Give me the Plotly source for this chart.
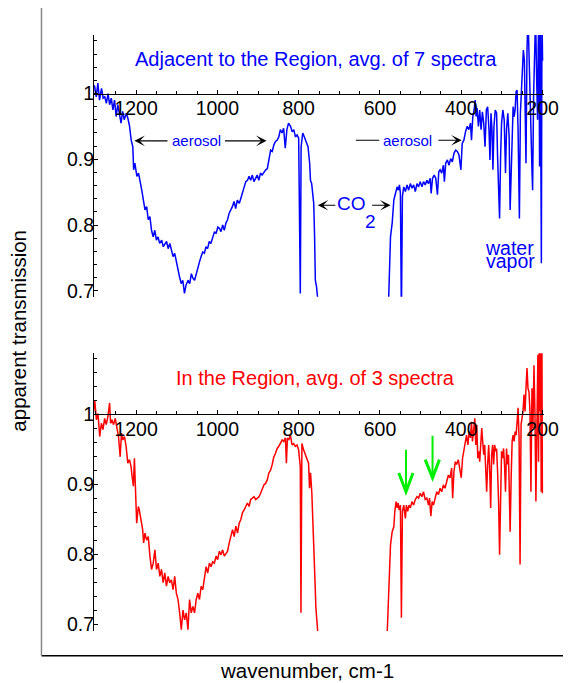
import plotly.graph_objects as go

# ---------------- data ----------------
# Top panel: adjacent to the region (blue)
top_left_wn = [1306, 1305, 1302, 1298, 1294, 1290, 1285, 1281, 1277, 1273,
               1269, 1265, 1261, 1257, 1253, 1249, 1245, 1241, 1237, 1233,
               1229, 1224, 1220, 1216, 1212, 1208, 1206, 1203, 1198, 1194,
               1190, 1186, 1182, 1178, 1174, 1170, 1166, 1162, 1158, 1154,
               1150, 1146, 1142, 1137, 1133, 1129, 1125, 1121, 1117, 1113,
               1109, 1105, 1101, 1097, 1093, 1089, 1085, 1081, 1077, 1072,
               1068, 1064, 1060, 1056, 1052, 1048, 1044, 1040, 1036, 1032,
               1028, 1024, 1020, 1016, 1011, 1007, 1003, 999, 995, 991,
               987, 983, 979, 975, 971, 967, 963, 959, 955, 951,
               946, 942, 938, 934, 930, 926, 922, 918, 914, 910,
               906, 902, 898, 894, 890, 885, 881, 877, 873, 869,
               865, 861, 857, 853, 849, 845, 841, 837, 833, 829,
               825, 820, 816, 812, 808, 804, 800, 796, 794, 790,
               786, 781, 777, 773, 771, 768, 765, 763, 761, 759,
               756, 753]
top_left_t = [0.970, 1.013, 1.011, 0.995, 1.016, 0.990, 1.008, 0.993, 0.995, 0.985,
              1.000, 0.983, 0.993, 0.975, 0.990, 0.965, 0.983, 0.970, 0.955, 0.973,
              0.960, 0.970, 0.962, 0.950, 0.929, 0.919, 0.884, 0.894, 0.874, 0.879,
              0.868, 0.853, 0.838, 0.823, 0.828, 0.808, 0.813, 0.792, 0.782, 0.792,
              0.777, 0.782, 0.772, 0.777, 0.767, 0.772, 0.775, 0.764, 0.772, 0.762,
              0.752, 0.757, 0.744, 0.729, 0.721, 0.711, 0.716, 0.696, 0.709, 0.716,
              0.711, 0.726, 0.719, 0.716, 0.726, 0.737, 0.744, 0.752, 0.759, 0.757,
              0.767, 0.764, 0.775, 0.772, 0.782, 0.790, 0.787, 0.797, 0.795, 0.790,
              0.800, 0.792, 0.803, 0.808, 0.818, 0.823, 0.828, 0.836, 0.825, 0.838,
              0.833, 0.841, 0.848, 0.858, 0.866, 0.868, 0.874, 0.868, 0.876, 0.866,
              0.871, 0.876, 0.868, 0.879, 0.876, 0.881, 0.884, 0.886, 0.899, 0.914,
              0.912, 0.922, 0.927, 0.929, 0.934, 0.945, 0.940, 0.947, 0.917, 0.945,
              0.955, 0.950, 0.942, 0.945, 0.934, 0.937, 0.932, 0.696, 0.919, 0.940,
              0.934, 0.927, 0.919, 0.894, 0.868, 0.863, 0.838, 0.833, 0.787, 0.716,
              0.706, 0.686]

top_right_wn = [580.0, 578.1, 576.5, 574.1, 570.0, 565.9, 561.9, 557.8, 554.6, 552.1,
                549.7, 547.3, 544.8, 541.6, 537.5, 533.4, 529.4, 525.3, 521.2, 517.2,
                513.1, 509.0, 505.0, 500.9, 496.8, 492.8, 488.7, 484.7, 480.6, 476.5,
                474.1, 470.8, 466.8, 462.7, 458.6, 455.4, 452.1, 448.1, 444.0, 441.6,
                438.3, 434.2, 430.2, 426.1, 422.0, 418.0, 413.9, 409.9, 405.8, 400.9,
                397.7, 393.6, 389.5, 385.5, 381.4, 377.3, 374.9, 371.6, 368.4, 365.9,
                363.5, 361.1, 357.8, 354.6, 351.3, 348.1, 344.8, 341.6, 338.3, 335.1,
                331.8, 329.4, 326.9, 324.5, 322.1, 319.6, 316.4, 313.1, 310.7, 308.2,
                305.8, 303.3, 300.9, 297.7, 294.4, 291.2, 288.7, 285.5, 282.2, 279.8,
                277.3, 274.9, 272.5, 270.0, 267.6, 265.1, 262.7, 260.3, 257.0, 254.6,
                252.1, 249.7, 247.3, 244.8, 242.4, 240.8, 238.3, 235.9, 233.4, 231.0,
                228.6, 226.1, 224.5, 222.1, 219.6, 217.2, 214.7, 212.3, 210.7, 209.0,
                207.4, 205.8, 203.0, 201.5, 200.0]
top_right_t = [0.660, 0.691, 0.742, 0.782, 0.803, 0.838, 0.848, 0.858, 0.853, 0.861,
               0.848, 0.660, 0.843, 0.858, 0.851, 0.861, 0.853, 0.863, 0.856, 0.861,
               0.851, 0.863, 0.858, 0.866, 0.858, 0.866, 0.861, 0.868, 0.863, 0.871,
               0.848, 0.871, 0.876, 0.871, 0.846, 0.881, 0.884, 0.879, 0.891, 0.866,
               0.894, 0.899, 0.891, 0.901, 0.896, 0.909, 0.914, 0.912, 0.907, 0.884,
               0.924, 0.929, 0.942, 0.950, 0.945, 0.955, 0.929, 0.965, 0.975, 0.990,
               0.965, 0.978, 0.950, 0.975, 0.945, 0.972, 0.955, 0.919, 0.975, 0.980,
               0.945, 0.899, 0.970, 0.945, 0.884, 0.950, 0.975, 0.970, 0.904, 0.858,
               0.810, 0.904, 0.955, 0.975, 0.960, 0.879, 0.945, 0.970, 0.934, 0.823,
               0.894, 0.960, 0.980, 0.965, 0.975, 1.003, 1.005, 0.945, 0.810, 0.970,
               1.000, 1.041, 1.066, 1.051, 0.919, 0.894, 1.066, 1.120, 1.061, 1.016,
               0.945, 0.884, 0.853, 0.995, 1.120, 1.120, 1.026, 0.960, 1.071, 1.120,
               0.889, 1.120, 0.742, 1.120, 1.050]

# Bottom panel: in the region (red)
bot_left_wn = [1305.8, 1301.7, 1297.6, 1293.6, 1289.5, 1285.4, 1281.4, 1277.3, 1273.3, 1269.2,
               1265.1, 1262.7, 1259.4, 1255.4, 1251.3, 1247.2, 1243.2, 1239.1, 1235.9, 1232.6,
               1228.5, 1224.5, 1220.4, 1216.3, 1212.3, 1209.8, 1206.6, 1204.1, 1201.7, 1198.5,
               1194.4, 1192.0, 1187.9, 1183.8, 1181.4, 1178.1, 1174.1, 1170.0, 1165.9, 1161.9,
               1157.8, 1153.7, 1149.7, 1145.6, 1141.5, 1137.5, 1133.4, 1129.4, 1125.3, 1121.2,
               1117.2, 1113.1, 1109.0, 1105.0, 1100.9, 1096.8, 1092.8, 1088.7, 1084.6, 1080.6,
               1076.5, 1072.4, 1068.4, 1064.3, 1060.2, 1056.2, 1052.1, 1048.1, 1044.0, 1039.9,
               1035.9, 1031.8, 1027.7, 1023.7, 1019.6, 1015.5, 1011.5, 1007.4, 1003.3, 999.3,
               995.2, 991.2, 987.1, 983.0, 979.0, 974.9, 970.8, 966.8, 962.7, 958.6,
               954.6, 950.5, 946.4, 942.4, 938.3, 934.2, 930.2, 926.1, 922.0, 918.0,
               913.9, 909.8, 905.8, 901.7, 897.6, 893.6, 889.5, 885.4, 881.4, 877.3,
               873.3, 869.2, 865.1, 861.1, 857.0, 852.9, 848.9, 844.8, 840.7, 836.7,
               832.6, 830.2, 827.7, 824.5, 820.4, 816.3, 812.3, 808.2, 804.1, 800.1,
               796.0, 794.4, 792.0, 787.9, 783.8, 779.8, 775.7, 773.3, 770.8, 767.6,
               765.1, 762.7, 759.4, 757.8, 756.2, 752.9]
bot_left_t = [0.997, 1.020, 0.992, 1.001, 0.968, 0.987, 0.978, 0.994, 0.985, 0.997,
              1.016, 0.987, 0.992, 0.985, 0.994, 0.982, 0.968, 0.939, 0.973, 0.963,
              0.968, 0.954, 0.930, 0.935, 0.925, 0.911, 0.897, 0.937, 0.878, 0.844,
              0.868, 0.863, 0.849, 0.835, 0.816, 0.830, 0.820, 0.825, 0.797, 0.778,
              0.787, 0.806, 0.778, 0.787, 0.768, 0.778, 0.759, 0.773, 0.754, 0.768,
              0.759, 0.763, 0.749, 0.768, 0.744, 0.735, 0.716, 0.692, 0.720, 0.706,
              0.716, 0.692, 0.735, 0.716, 0.725, 0.716, 0.735, 0.744, 0.735, 0.754,
              0.749, 0.768, 0.782, 0.773, 0.787, 0.782, 0.789, 0.787, 0.797, 0.792,
              0.804, 0.799, 0.806, 0.797, 0.801, 0.804, 0.816, 0.825, 0.835, 0.825,
              0.840, 0.830, 0.844, 0.849, 0.859, 0.863, 0.868, 0.873, 0.868, 0.878,
              0.880, 0.882, 0.878, 0.880, 0.882, 0.887, 0.892, 0.899, 0.901, 0.906,
              0.916, 0.920, 0.928, 0.939, 0.944, 0.951, 0.954, 0.958, 0.963, 0.961,
              0.966, 0.930, 0.966, 0.963, 0.970, 0.956, 0.958, 0.954, 0.956, 0.949,
              0.925, 0.716, 0.958, 0.949, 0.942, 0.935, 0.930, 0.894, 0.916, 0.887,
              0.854, 0.820, 0.754, 0.725, 0.706, 0.687]

bot_right_wn = [584.0, 582.2, 579.8, 577.3, 574.1, 570.0, 565.9, 563.5, 560.3, 557.8,
                555.4, 552.9, 549.7, 547.3, 544.8, 541.6, 537.5, 535.1, 531.8, 528.6,
                525.3, 521.2, 517.2, 513.1, 509.0, 505.0, 500.9, 496.8, 492.8, 488.7,
                484.7, 480.6, 478.1, 474.9, 471.6, 468.4, 464.3, 460.3, 456.2, 452.1,
                448.1, 444.0, 439.9, 435.9, 431.8, 427.7, 423.7, 421.2, 418.0, 414.7,
                411.5, 407.4, 403.4, 400.1, 396.9, 393.6, 390.3, 387.1, 383.8, 380.6,
                377.3, 374.9, 372.5, 369.2, 366.8, 364.3, 361.9, 359.4, 357.0, 354.6,
                352.1, 349.7, 347.3, 344.8, 342.4, 339.9, 337.5, 335.1, 332.6, 330.2,
                327.7, 325.3, 322.9, 320.4, 318.0, 315.5, 313.1, 310.7, 308.2, 305.8,
                303.3, 300.9, 298.5, 296.0, 293.6, 291.2, 288.7, 286.3, 283.8, 281.4,
                279.8, 277.3, 274.9, 272.5, 270.0, 267.6, 265.1, 262.7, 260.3, 257.8,
                255.4, 252.9, 250.5, 248.1, 245.6, 243.2, 240.8, 238.3, 235.9, 233.4,
                231.0, 228.6, 226.1, 223.7, 221.2, 218.8, 216.4, 213.9, 211.5, 209.9,
                208.2, 206.6, 205.0, 203.4, 201.7, 200.5]
bot_right_t = [0.660, 0.689, 0.713, 0.766, 0.813, 0.832, 0.839, 0.861, 0.875, 0.866,
               0.873, 0.863, 0.870, 0.709, 0.861, 0.870, 0.851, 0.870, 0.861, 0.870,
               0.866, 0.875, 0.870, 0.878, 0.882, 0.880, 0.887, 0.882, 0.889, 0.878,
               0.880, 0.870, 0.880, 0.854, 0.875, 0.870, 0.882, 0.889, 0.885, 0.894,
               0.889, 0.899, 0.894, 0.904, 0.913, 0.909, 0.923, 0.880, 0.918, 0.932,
               0.928, 0.935, 0.918, 0.909, 0.937, 0.947, 0.956, 0.970, 0.956, 0.975,
               0.966, 0.989, 0.961, 0.985, 0.994, 0.956, 0.985, 0.937, 0.947, 0.932,
               0.951, 0.980, 0.961, 0.942, 0.956, 0.918, 0.889, 0.928, 0.956, 0.923,
               0.866, 0.942, 0.956, 0.928, 0.956, 0.947, 0.951, 0.918, 0.875, 0.799,
               0.909, 0.947, 0.937, 0.951, 0.928, 0.889, 0.951, 0.928, 0.942, 0.856,
               0.832, 0.909, 0.961, 0.970, 0.961, 0.975, 0.970, 0.989, 1.009, 0.966,
               0.785, 0.985, 0.994, 1.004, 1.028, 1.004, 1.037, 1.066, 1.037, 1.032,
               1.004, 0.889, 1.037, 0.980, 1.070, 1.004, 0.875, 1.037, 1.085, 0.932,
               1.120, 1.004, 1.120, 0.889, 1.120, 0.887]

x_tick_vals = [1200, 1000, 800, 600, 400, 200]
x_tick_text = ["1200", "1000", "800", "600", "400", "200"]
y_tick_vals = [0.7, 0.8, 0.9, 1.0]
y_tick_text = ["0.7", "0.8", "0.9", "1"]

# ---------------- layout geometry ----------------
# The page body has an 8px margin, so the figure is drawn 8px in and 8px down.
OFF = 8
W, H = 571 - OFF, 683 - OFF
ML, MR, MT, MB = 94 - OFF, 23, 35 - OFF, 52
PW, PH = W - ML - MR, H - MT - MB


def paper_x(px):
    return (px - OFF - ML) / PW


def paper_y(py):
    return (H - MB - (py - OFF)) / PH


X_RANGE = [1303.5, 196.5]
TOP_YR = [0.691, 1.089]
BOT_YR = [0.690, 1.087]
TOP_DOM = [paper_y(296.7), 1.0]
BOT_DOM = [0.0, paper_y(353.3)]


def cross_pos(dom, yr, yval=1.0):
    return dom[0] + (yval - yr[0]) / (yr[1] - yr[0]) * (dom[1] - dom[0])


FONT = "Liberation Sans, Arial, Helvetica, sans-serif"
BLUE, RED, GREEN = "#0000ff", "#ff0000", "#00ee00"

fig = go.Figure()
fig.add_trace(go.Scatter(x=top_left_wn + [None] + top_right_wn,
                         y=top_left_t + [None] + top_right_t,
                         mode="lines", line=dict(color=BLUE, width=1.5),
                         xaxis="x", yaxis="y", showlegend=False, hoverinfo="skip"))
fig.add_trace(go.Scatter(x=bot_left_wn + [None] + bot_right_wn,
                         y=bot_left_t + [None] + bot_right_t,
                         mode="lines", line=dict(color=RED, width=1.5),
                         xaxis="x2", yaxis="y2", showlegend=False, hoverinfo="skip"))


def xaxis_cfg(pos):
    return dict(range=X_RANGE, anchor="free", position=pos, side="bottom",
                showline=True, linecolor="black", linewidth=1,
                ticks="inside", ticklen=4, tickwidth=1, tickcolor="black",
                tickmode="array", tickvals=x_tick_vals, ticktext=x_tick_text,
                tickfont=dict(family=FONT, size=19.5, color="black"),
                ticklabelstandoff=-3,
                minor=dict(ticks="inside", ticklen=3, tickcolor="black",
                           tickmode="linear", tick0=0, dtick=50, showgrid=False),
                showgrid=False, zeroline=False, fixedrange=True)


def yaxis_cfg(dom, yr, anchor):
    return dict(range=yr, domain=dom, anchor=anchor,
                showline=True, linecolor="black", linewidth=1,
                ticks="inside", ticklen=4, tickwidth=1, tickcolor="black",
                tickmode="array", tickvals=y_tick_vals, ticktext=y_tick_text,
                tickfont=dict(family=FONT, size=19.5, color="black"),
                ticklabelstandoff=-5,
                minor=dict(ticks="inside", ticklen=2.5, tickcolor="black",
                           tickmode="linear", tick0=0, dtick=0.02, showgrid=False),
                showgrid=False, zeroline=False, fixedrange=True)


annotations = []


def text(x, y, s, color, size, xref="x", yref="y", **kw):
    d = dict(x=x, y=y, xref=xref, yref=yref, text=s, showarrow=False,
             font=dict(family=FONT, size=size, color=color),
             xanchor="center", yanchor="middle")
    d.update(kw)
    annotations.append(d)


def arrow(x, y, ax, ay, xref="x", yref="y", head=3, color="black", width=1.1, size=1.6):
    annotations.append(dict(x=x, y=y, ax=ax, ay=ay, xref=xref, yref=yref,
                            axref=xref, ayref=yref, text="", showarrow=True,
                            arrowhead=head, arrowsize=size, arrowwidth=width,
                            arrowcolor=color))


# panel titles
text(757, 1.052, "Adjacent to the Region, avg. of 7 spectra", BLUE, 20)
text(758, 1.051, "In the Region, avg. of 3 spectra", RED, 20, xref="x2", yref="y2")

# aerosol labels (top panel)
text(1052, 0.928, "aerosol", BLUE, 15)
arrow(1204, 0.928, 1119, 0.928)
arrow(879, 0.928, 985, 0.928)
text(532, 0.929, "aerosol", BLUE, 15)
arrow(602, 0.929, 663, 0.929, head=0, size=1)
arrow(399, 0.929, 460, 0.929)

# CO2 label
text(670, 0.833, "CO", BLUE, 19)
text(623, 0.806, "2", BLUE, 19)
arrow(753, 0.830, 706, 0.830)
arrow(574, 0.830, 623, 0.830)

# water vapor
text(282.5, 0.765, "water", BLUE, 19.5)
text(279, 0.745, "vapor", BLUE, 19.5)

# axis titles
text(paper_x(309), paper_y(671), "wavenumber, cm-1", "black", 20.5, xref="paper", yref="paper")
text(paper_x(18), paper_y(331), "apparent transmission", "black", 20.5,
     xref="paper", yref="paper", textangle=-90)

shapes = []
# green arrows in the lower panel
for xs, ytop, ytip, xl, xr, yarm in [(536, 0.949, 0.889, 553.7, 518.8, 0.916),
                                      (470.7, 0.969, 0.909, 488.8, 453.7, 0.935)]:
    shapes.append(dict(type="line", xref="x2", yref="y2", x0=xs, x1=xs, y0=ytop, y1=ytip + 0.004,
                       line=dict(color=GREEN, width=2)))
    shapes.append(dict(type="path", xref="x2", yref="y2",
                       path=f"M {xl},{yarm} L {xs},{ytip} L {xr},{yarm}",
                       line=dict(color=GREEN, width=3)))

# outer frame
fx0, fx1 = paper_x(41), paper_x(580)
fy0, fy1 = paper_y(655.7), paper_y(4.5)
shapes.append(dict(type="line", xref="paper", yref="paper", x0=fx0, x1=fx1, y0=fy1, y1=fy1,
                   line=dict(color="black", width=1.5)))
shapes.append(dict(type="line", xref="paper", yref="paper", x0=fx0, x1=fx1, y0=fy0, y1=fy0,
                   line=dict(color="black", width=1.5)))
shapes.append(dict(type="line", xref="paper", yref="paper", x0=fx0, x1=fx0, y0=fy0, y1=fy1,
                   line=dict(color="#888888", width=1.5)))

fig.update_layout(
    width=W, height=H,
    margin=dict(l=ML, r=MR, t=MT, b=MB, pad=0),
    paper_bgcolor="white", plot_bgcolor="white",
    font=dict(family=FONT, color="black"),
    xaxis=xaxis_cfg(cross_pos(TOP_DOM, TOP_YR)),
    yaxis=yaxis_cfg(TOP_DOM, TOP_YR, "x"),
    xaxis2=xaxis_cfg(cross_pos(BOT_DOM, BOT_YR)),
    yaxis2=yaxis_cfg(BOT_DOM, BOT_YR, "x2"),
    annotations=annotations,
    shapes=shapes,
    showlegend=False,
)

fig.write_html("out.html")
